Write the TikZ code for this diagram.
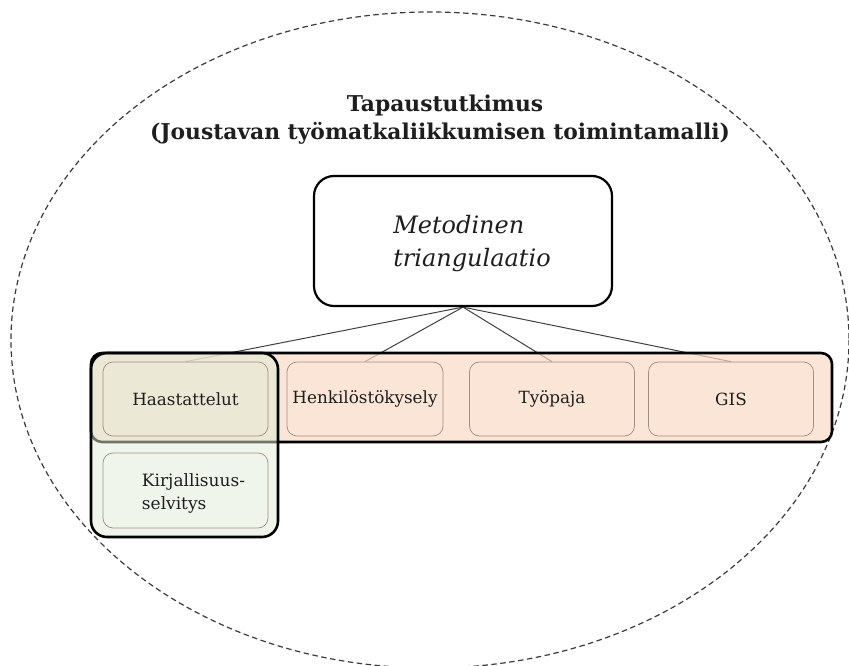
\documentclass[tikz,border=0pt]{standalone}
\usepackage{fontspec}
\setmainfont{DejaVu Serif}
\usetikzlibrary{backgrounds}
\definecolor{ovalline}{HTML}{3A3A3A}
\definecolor{linkline}{HTML}{404040}
\definecolor{rowfill}{HTML}{F9DAC4}
\definecolor{litfill}{HTML}{DFEBD7}
\definecolor{cellline}{HTML}{A08C80}
\definecolor{ink}{HTML}{1E1E1E}
\tikzset{
  groupbox/.style={draw=black, line width=2.6pt, rounded corners=11pt,
    inner sep=0pt, anchor=center},
  cellbox/.style={draw=cellline, line width=0.7pt, rounded corners=10pt,
    inner sep=0pt, minimum width=165pt, minimum height=74pt,
    text=ink, font=\fontsize{16.8}{20}\selectfont},
  mainbox/.style={draw=black, line width=2.2pt, rounded corners=20pt,
    fill=white, inner sep=0pt, minimum width=298pt, minimum height=130pt},
  link/.style={draw=linkline, line width=1pt},
  heading/.style={font=\bfseries\fontsize{21.8}{24}\selectfont, text=ink,
    inner sep=0pt}
}
\begin{document}
\begin{tikzpicture}[x=1pt,y=-1pt]
\useasboundingbox (0,0) rectangle (849,666);

% dashed oval framing the case study
\begin{scope}
  \clip (0,0) rectangle (849,666);
  \draw[ovalline, dashed, dash pattern=on 5.5pt off 3.5pt, line width=1.2pt]
    (430,340) ellipse [x radius=419, y radius=328];
\end{scope}

% heading
\node[heading, anchor=base] (title1) at (445,112) {Tapaustutkimus};
\node[heading, anchor=base] (title2) at (440,140)
  {(Joustavan työmatkaliikkumisen toimintamalli)};

% method triangulation box
\node[mainbox] (method) at (463,241) {};
\node[align=left, text=ink, inner sep=0pt,
  font=\itshape\fontsize{24}{33}\selectfont] (methodtxt) at (472,244)
  {Metodinen\\triangulaatio};

% group of methods (row) and literature group (column)
\node[groupbox, fill=rowfill, fill opacity=0.7, draw opacity=1,
  minimum width=741pt, minimum height=89pt] (row) at (461.5,397.5) {};
\node[groupbox, fill=litfill, fill opacity=0.5, draw opacity=1,
  rounded corners=16pt, minimum width=187pt, minimum height=184pt]
  (lit) at (184.5,445) {};

% individual methods
\node[cellbox] (haas) at (185.5,399) {Haastattelut};
\node[cellbox, minimum width=156pt] (henk) at (365,399) {Henkilöstökysely};
\node[cellbox] (tyo) at (552,399) {Työpaja};
\node[cellbox] (gis) at (731,399) {GIS};
\node[cellbox, minimum height=75pt] (kirj) at (185.5,490.5) {};
\node[align=left, text=ink, inner sep=0pt,
  font=\fontsize{17}{23}\selectfont] (kirjtxt) at (193.5,493)
  {Kirjallisuus-\\selvitys};

% connectors from the triangulation box to each method
\begin{scope}[on background layer]
  \draw[link] (method.south) -- (haas.north);
  \draw[link] (method.south) -- (henk.north);
  \draw[link] (method.south) -- (tyo.north);
  \draw[link] (method.south) -- (gis.north);
\end{scope}
\end{tikzpicture}
\end{document}
